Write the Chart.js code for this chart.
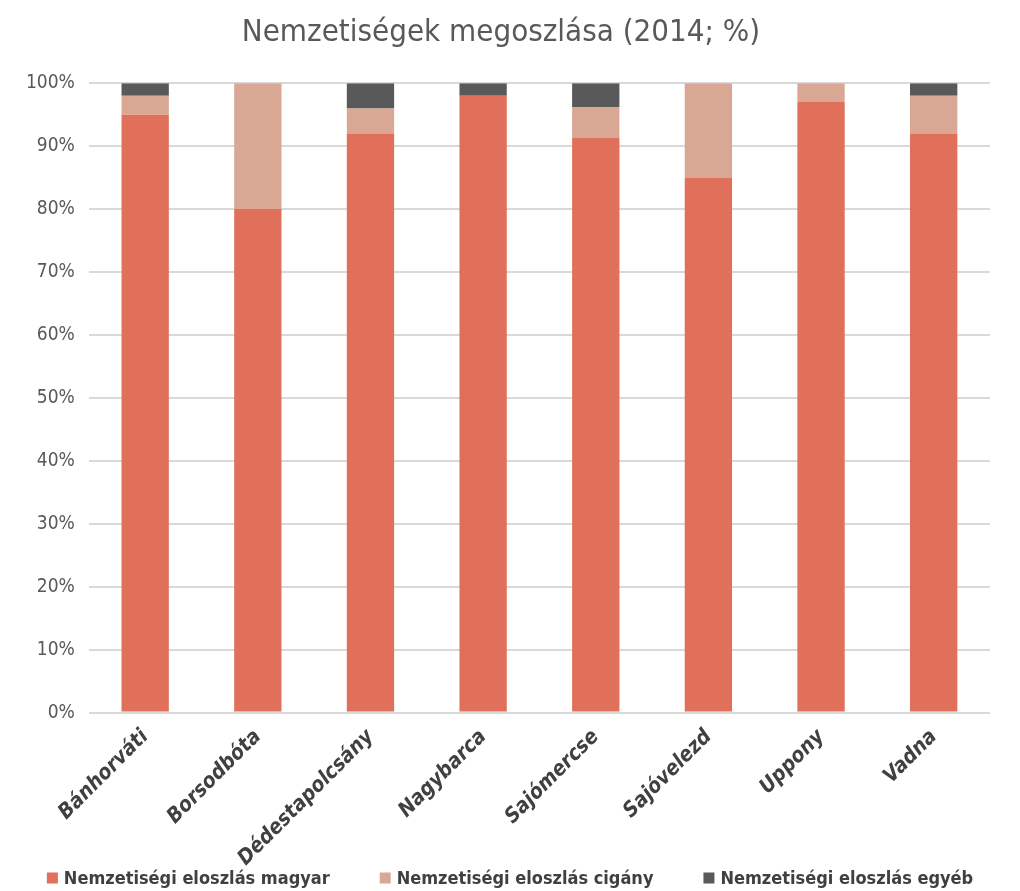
<!DOCTYPE html>
<html>
<head>
<meta charset="utf-8">
<script src="https://cdn.jsdelivr.net/npm/chart.js@4"></script>
<style>
  html, body { margin: 0; padding: 0; background: #fff; }
  #wrap { width: 1020px; height: 891px; }
</style>
</head>
<body>
<div id="wrap"><canvas id="chart"></canvas></div>
<script>
const categories = ['Bánhorváti', 'Borsodbóta', 'Dédestapolcsány', 'Nagybarca', 'Sajómercse', 'Sajóvelezd', 'Uppony', 'Vadna'];
const magyar = [95, 80, 92, 98, 91.3, 85, 97, 92];
const cigany = [3, 20, 4, 0, 4.9, 15, 3, 6];
const egyeb = [2, 0, 4, 2, 3.8, 0, 0, 2];

const font = "'Liberation Sans Narrow', 'DejaVu Sans Condensed', sans-serif";

// legend drawn by hand so the row sits close under the rotated labels
const bottomLegend = {
    id: 'bottomLegend',
    afterDraw(chart) {
        const ctx = chart.ctx;
        const items = chart.data.datasets;
        const box = 11, gapText = 6, gapItem = 50;
        ctx.save();
        ctx.font = 'bold 18px ' + font;
        ctx.textBaseline = 'middle';
        const widths = items.map(d => box + gapText + ctx.measureText(d.label).width);
        const total = widths.reduce((a, b) => a + b, 0) + gapItem * (items.length - 1);
        let x = (chart.width - total) / 2;
        const y = 878;
        items.forEach((d, i) => {
            ctx.fillStyle = d.backgroundColor;
            ctx.fillRect(x, y - box / 2, box, box);
            ctx.fillStyle = '#404040';
            ctx.fillText(d.label, x + box + gapText, y + 1);
            x += widths[i] + gapItem;
        });
        ctx.restore();
    }
};

new Chart(document.getElementById('chart'), {
    type: 'bar',
    data: {
        labels: categories,
        datasets: [
            { label: 'Nemzetiségi eloszlás magyar', data: magyar, backgroundColor: '#e0705a' },
            { label: 'Nemzetiségi eloszlás cigány', data: cigany, backgroundColor: '#d8a894' },
            { label: 'Nemzetiségi eloszlás egyéb', data: egyeb, backgroundColor: '#595959' }
        ]
    },
    plugins: [bottomLegend],
    options: {
        responsive: true,
        maintainAspectRatio: false,
        animation: false,
        layout: { padding: { left: 12, right: 30, top: 10, bottom: 16 } },
        datasets: { bar: { categoryPercentage: 1, barPercentage: 0.42 } },
        plugins: {
            title: {
                display: true,
                text: 'Nemzetiségek megoszlása (2014; %)',
                color: '#595959',
                font: { family: font, size: 31, weight: 'normal' },
                padding: { top: 4, bottom: 32 }
            },
            legend: { display: false },
            tooltip: { enabled: false }
        },
        scales: {
            x: {
                stacked: true,
                grid: { display: false },
                border: { display: false },
                ticks: {
                    color: '#404040',
                    font: { family: font, size: 21, weight: 'bold', style: 'italic' },
                    minRotation: 45,
                    maxRotation: 45,
                    padding: 4
                }
            },
            y: {
                stacked: true,
                min: 0,
                max: 100,
                grid: { color: '#d9d9d9', lineWidth: 2, drawTicks: false },
                border: { display: false },
                ticks: {
                    stepSize: 10,
                    padding: 14,
                    color: '#595959',
                    font: { family: font, size: 19 },
                    callback: v => v + '%'
                }
            }
        }
    }
});
</script>
</body>
</html>
